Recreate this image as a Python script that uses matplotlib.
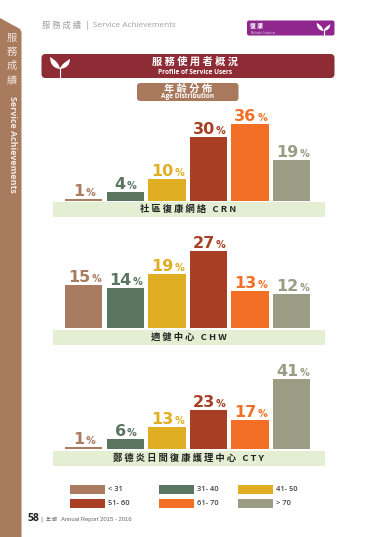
import matplotlib
matplotlib.use('Agg')
import matplotlib.pyplot as plt
from matplotlib.patches import Rectangle, FancyBboxPatch, Polygon, PathPatch
from matplotlib.path import Path

CJK = ['Noto Sans CJK TC', 'DejaVu Sans']

age_groups = ['< 31', '31- 40', '41- 50', '51- 60', '61- 70', '> 70']
colors = ['#A97B60', '#5A7660', '#E0AE23', '#A83F24', '#F36F25', '#9A9C84']
crn_values = [1, 4, 10, 30, 36, 19]
chw_values = [15, 14, 19, 27, 13, 12]
cty_values = [1, 6, 13, 23, 17, 41]
crn_title = '社區復康網絡 CRN'
chw_title = '適健中心 CHW'
cty_title = '鄭德炎日間復康護理中心 CTY'

W, H = 380, 537
fig = plt.figure(figsize=(W / 100, H / 100), dpi=100, facecolor='white')
bg = fig.add_axes([0, 0, 1, 1])
bg.set_xlim(0, W)
bg.set_ylim(H, 0)
bg.axis('off')


def sprout(x, y, s, color='white'):
    for sgn, rise in ((-1, 12), (1, 10)):
        verts = [(x, y),
                 (x + sgn * 10 * s, y - 1 * s),
                 (x + sgn * 10 * s, y - rise * s),
                 (x + sgn * 1 * s, y - (rise - 5) * s),
                 (x, y)]
        codes = [Path.MOVETO, Path.CURVE3, Path.CURVE3, Path.CURVE3, Path.CURVE3]
        bg.add_patch(PathPatch(Path(verts, codes), fc=color, ec='none'))
    bg.plot([x, x], [y - 2 * s, y + 9 * s], color=color, lw=0.8, solid_capstyle='butt')


def rbox(x0, y0, x1, y1, r, color):
    bg.add_patch(FancyBboxPatch((x0 + r, y0 + r), x1 - x0 - 2 * r, y1 - y0 - 2 * r,
                                boxstyle=f'round,pad={r},rounding_size={r}', fc=color, ec='none'))


# sidebar
bg.add_patch(Polygon([(0, 18), (20, 29), (21.5, 32), (21.5, 537), (0, 537)], fc='#A87A5E', ec='none'))
for ch, y in zip('服務成績', [38, 52, 66, 80]):
    bg.text(12, y, ch, family=CJK, fontsize=7.4, color='#EFE4DC', ha='center', va='center')
bg.text(12, 144.5, 'Service Achievements', fontsize=6.4, weight='bold', color='#F4ECE6',
        rotation=-90, ha='center', va='center', family='Open Sans')

# header
bg.text(42, 25.5, '服 務 成 績', family=CJK, fontsize=6.0, color='#A0A0A0', va='center')
bg.text(87, 25.5, '|', fontsize=5.5, color='#A0A0A0', va='center', ha='center')
bg.text(93, 25.5, 'Service Achievements', family='Open Sans', fontsize=5.9, color='#A0A0A0', va='center')
rbox(247, 20.5, 334.5, 35.5, 2, '#90278E')
bg.text(250.5, 25.5, '復 康', family=CJK, fontsize=4.2, weight='bold', color='white', va='center')
bg.text(250.5, 32.5, 'Rehabilitation', family='Open Sans', fontsize=2.8, color='#E8CFE8', va='center')
sprout(323.5, 31, 0.68)

# banner
rbox(41.5, 54, 334.5, 78, 4, '#8E2C36')
sprout(60, 69, 1.0)
bg.text(195.5, 62, ' '.join('服務使用者概況'), family=CJK, fontsize=7.4, weight='bold', color='white',
        ha='center', va='center')
bg.text(195.5, 73, 'Profile of Service Users', family='Open Sans', fontsize=4.7, weight='bold', color='white',
        ha='center', va='center')
rbox(137, 83, 238.5, 101, 3, '#A9795E')
bg.text(188, 88.5, ' '.join('年齡分佈'), family=CJK, fontsize=7.4, weight='bold', color='white',
        ha='center', va='center')
bg.text(188, 97, 'Age Distribution', family='Open Sans', fontsize=4.7, weight='bold', color='white',
        ha='center', va='center')

# panels: (values, baseline y in px, px per unit, band top, band bottom, title)
panels = [
    (crn_values, 200.7, 2.13, 202, 216.5, crn_title),
    (chw_values, 327.7, 2.84, 330, 344.5, chw_title),
    (cty_values, 449.0, 1.71, 451, 465.5, cty_title),
]
STEP = 41.6
X0 = 83.7 - STEP / 2
for values, base, ppu, top, bot, title in panels:
    bg.add_patch(Rectangle((52.5, top), 272, bot - top, fc='#E3EED3', ec='none'))
    bg.text(188.5, (top + bot) / 2, ' '.join(title), family=CJK, fontsize=6.7, weight='bold', color='#222222',
            ha='center', va='center')
    ax_h = 60 * ppu
    ax = fig.add_axes([X0 / W, 1 - base / H, 6 * STEP / W, ax_h / H])
    ax.patch.set_alpha(0)
    ax.set_xlim(-0.5, 5.5)
    ax.set_ylim(0, 60)
    ax.axis('off')
    ax.bar(range(len(values)), values, width=0.9, color=colors)
    for i, (v, c) in enumerate(zip(values, colors)):
        n = len(str(v))
        total = n * 12 + 11
        split = -total / 2 + n * 12
        ax.annotate(str(v), (i, v), xytext=(split * 0.72, 2.2), textcoords='offset points', ha='right',
                    va='baseline', fontsize=11.5, weight='bold', color=c, family='DejaVu Sans')
        ax.annotate('%', (i, v), xytext=((split + 1) * 0.72, 2.2), textcoords='offset points', ha='left',
                    va='baseline', fontsize=7, weight='bold', color=c, family='DejaVu Sans')

# legend
leg_x = [70, 159, 238, 70, 159, 238]
leg_y = [484.5, 484.5, 484.5, 499, 499, 499]
for k, (x, y) in enumerate(zip(leg_x, leg_y)):
    bg.add_patch(Rectangle((x, y), 34.5, 9, fc=colors[k], ec='none'))
    bg.text(x + 38, y + 4.7, age_groups[k], family='Open Sans', fontsize=5.4, weight='semibold', color='#444444',
            va='center')

# footer
bg.text(27, 518.5, '58', family='Open Sans', fontsize=7.5, weight='bold', color='#222222', va='center')
bg.text(41, 519, '|', fontsize=4.5, color='#666666', va='center', ha='center')
bg.text(46, 519, '年 報', family=CJK, fontsize=3.6, color='#666666', va='center')
bg.text(61, 519, 'Annual Report 2015 - 2016', fontsize=4.2, color='#666666', va='center', family='Liberation Sans')

fig.savefig('out.png', dpi=100)
